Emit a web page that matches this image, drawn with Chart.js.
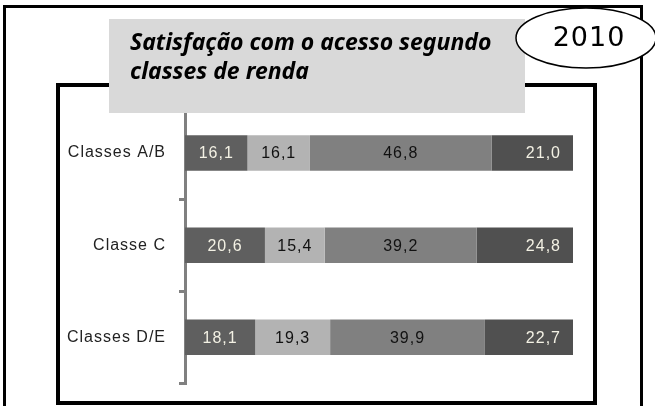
<!DOCTYPE html>
<html>
<head>
<meta charset="utf-8">
<script src="https://cdn.jsdelivr.net/npm/chart.js@4/dist/chart.umd.min.js"></script>
<style>
  html, body { margin: 0; padding: 0; background: #fff; }
  #wrap { position: relative; width: 655px; height: 406px; }
</style>
</head>
<body>
<div id="wrap"><canvas id="mainChart"></canvas></div>
<script>
const categories = ["Classes A/B", "Classe C", "Classes D/E"];
const seg1 = [16.1, 20.6, 18.1];
const seg2 = [16.1, 15.4, 19.3];
const seg3 = [46.8, 39.2, 39.9];
const seg4 = [21.0, 24.8, 22.7];
const segColors = ["#5f5f5f", "#b3b3b3", "#808080", "#505050"];
const labelColors = ["#f3f1e4", "#111111", "#111111", "#f3f1e4"];
const titleLines = ["Satisfação com o acesso segundo", "classes de renda"];
const yearLabel = "2010";

const fmt = v => v.toFixed(1).replace(".", ",");

// frames, title box and year ellipse
const decor = {
    id: "decor",
    beforeDraw(c) {
        const ctx = c.ctx;
        ctx.save();
        ctx.strokeStyle = "#000";
        ctx.lineWidth = 3;
        ctx.strokeRect(4.5, 6.5, 637, 420);
        ctx.lineWidth = 4;
        ctx.strokeRect(58, 85, 537, 318);
        ctx.restore();
        c.ctx.letterSpacing = "1px"; // for the category labels
    },
    afterDraw(c) {
        const ctx = c.ctx;
        ctx.save();
        ctx.letterSpacing = "0px";
        ctx.fillStyle = "#d9d9d9";
        ctx.fillRect(109, 19, 416, 94);
        ctx.fillStyle = "#000";
        ctx.font = "italic bold 23px 'Noto Sans'";
        ctx.textAlign = "left";
        ctx.textBaseline = "alphabetic";
        ctx.fillText(titleLines[0], 130, 50);
        ctx.fillText(titleLines[1], 130, 79);
        // ellipse
        ctx.beginPath();
        ctx.ellipse(586, 38, 70, 30, 0, 0, Math.PI * 2);
        ctx.fillStyle = "#fff";
        ctx.fill();
        ctx.lineWidth = 1.5;
        ctx.strokeStyle = "#000";
        ctx.stroke();
        ctx.fillStyle = "#000";
        ctx.letterSpacing = "1px";
        ctx.font = "27px 'DejaVu Sans'";
        ctx.textAlign = "center";
        ctx.textBaseline = "middle";
        ctx.fillText(yearLabel, 589, 39);
        ctx.restore();
    }
};

// value labels inside the bars
const valueLabels = {
    id: "valueLabels",
    afterDatasetsDraw(c) {
        const ctx = c.ctx;
        ctx.save();
        ctx.font = "16px 'Liberation Sans'";
        ctx.letterSpacing = "1px";
        ctx.textBaseline = "middle";
        c.data.datasets.forEach((ds, i) => {
            const meta = c.getDatasetMeta(i);
            meta.data.forEach((bar, j) => {
                const p = bar.getProps(["x", "y", "base"], true);
                ctx.fillStyle = labelColors[i];
                if (i === 3) {
                    ctx.textAlign = "right";
                    ctx.fillText(fmt(ds.data[j]), p.x - 12, p.y + 1);
                } else {
                    ctx.textAlign = "center";
                    ctx.fillText(fmt(ds.data[j]), (p.x + p.base) / 2, p.y + 1);
                }
            });
        });
        ctx.restore();
    }
};

const chart = new Chart(document.getElementById("mainChart").getContext("2d"), {
    type: "bar",
    data: {
        labels: categories,
        datasets: [seg1, seg2, seg3, seg4].map((d, i) => ({
            data: d,
            backgroundColor: segColors[i],
            borderWidth: 0,
            barPercentage: 0.385,
            categoryPercentage: 1
        }))
    },
    options: {
        indexAxis: "y",
        responsive: true,
        maintainAspectRatio: false,
        animation: false,
        layout: { padding: { top: 107, bottom: 21, right: 82, left: 0 } },
        plugins: { legend: { display: false }, tooltip: { enabled: false } },
        scales: {
            x: { stacked: true, min: 0, max: 100, display: false },
            y: {
                stacked: true,
                afterFit: s => { s.width = 185; },
                border: { display: true, color: "#808080", width: 3 },
                grid: { drawOnChartArea: false, drawTicks: true, tickLength: 6, color: "#808080", lineWidth: 3 },
                ticks: { color: "#222", padding: 13, font: { family: "'Liberation Sans'", size: 16 } }
            }
        }
    },
    plugins: [valueLabels, decor]
});
</script>
</body>
</html>
